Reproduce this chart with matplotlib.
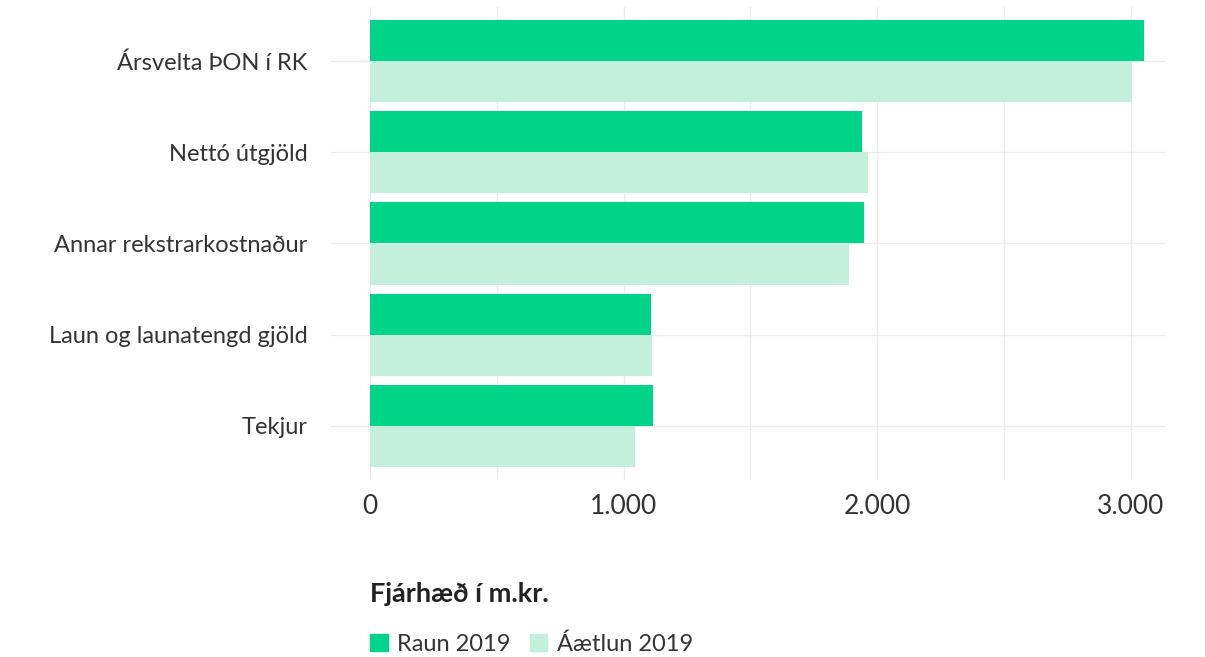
import matplotlib.pyplot as plt
import numpy as np
from matplotlib.patches import Patch

categories = ["Ársvelta ÞON í RK", "Nettó útgjöld", "Annar rekstrarkostnaður",
              "Laun og launatengd gjöld", "Tekjur"]
raun = [3055, 1941, 1949, 1110, 1118]
aaetlun = [3004, 1964, 1889, 1114, 1044]
series_names = ["Raun 2019", "Áætlun 2019"]
xticks = [0, 500, 1000, 1500, 2000, 2500, 3000]
xticklabels = ["0", "", "1.000", "", "2.000", "", "3.000"]

c_raun = "#00d48a"
c_plan = "#c3f0dd"
grid_c = "#ebebeb"
txt_c = "#333333"

plt.rcParams["font.family"] = ["Lato", "DejaVu Sans"]

fig = plt.figure(figsize=(12.05, 6.57), dpi=100)
W, H = 1205, 657
ax = fig.add_axes([370 / W, 1 - 480 / H, (1166 - 370) / W, (480 - 7) / H])

y = np.arange(len(categories))
h = 0.45
ax.barh(y - h / 2, raun, height=h, color=c_raun, zorder=2)
ax.barh(y + h / 2, aaetlun, height=h, color=c_plan, zorder=2)

ax.set_xlim(0, 3140)
ax.set_ylim(len(categories) - 1 + 0.593, -0.593)

ax.set_xticks(xticks)
ax.set_xticklabels(xticklabels)
ax.set_yticks(y)
ax.set_yticklabels(categories)

ax.grid(True, color=grid_c, lw=1, zorder=0)
ax.set_axisbelow(True)
for s in ax.spines.values():
    s.set_visible(False)

ax.tick_params(axis="x", length=0, pad=10, labelsize=19, labelcolor=txt_c)
ax.tick_params(axis="y", length=29, width=1, color=grid_c, pad=16,
               labelsize=17, labelcolor=txt_c)

fig.text(370 / W, 1 - 594 / H, "Fjárhæð í m.kr.", fontsize=19.5, fontweight="bold",
         color="#222222", va="center", ha="left")

handles = [Patch(color=c_raun), Patch(color=c_plan)]
leg = fig.legend(handles, series_names, loc="center left",
                 bbox_to_anchor=(370 / W, 1 - 644 / H), ncol=2, frameon=False,
                 fontsize=17, handlelength=0.75, handleheight=0.75,
                 handletextpad=0.4, columnspacing=0.8, labelcolor=txt_c,
                 borderaxespad=0, borderpad=0)

fig.savefig("out.png", dpi=100)
